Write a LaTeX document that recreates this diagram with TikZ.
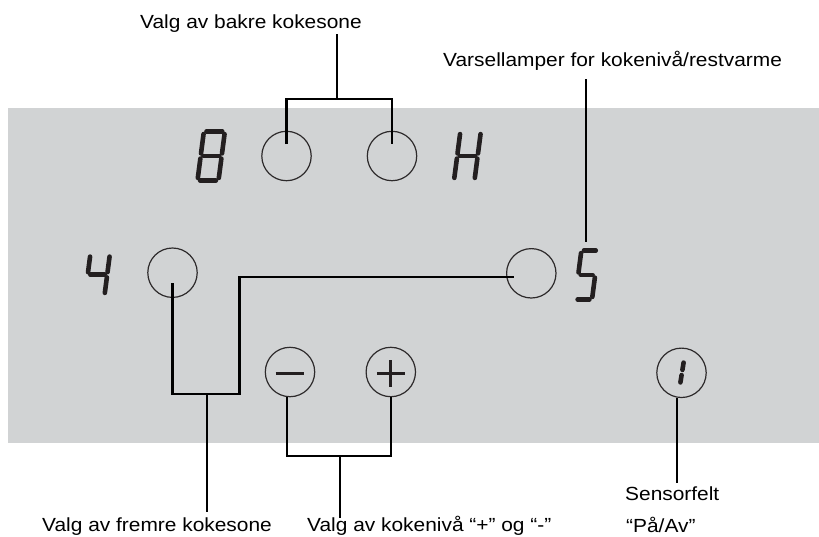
\documentclass[tikz,border=0pt]{standalone}
\usepackage{fontspec}
\setmainfont{Liberation Sans}[FakeStretch=1.1]
\definecolor{panelgray}{RGB}{209,211,212}
\definecolor{keyline}{RGB}{45,42,43}
\definecolor{segcol}{RGB}{35,31,32}
% point in a digit: local X (right), Y (up), slanted
\newcommand{\dpt}[2]{({\dx+(#1)+\ds*(#2)},{\dy-(#2)})}
\newcommand{\dsega}{\draw[seg] \dpt{\dg}{\dH} -- \dpt{\dW-\dg}{\dH};}
\newcommand{\dsegb}{\draw[seg] \dpt{\dW}{\dH-\dg} -- \dpt{\dW}{\dH/2+\dg};}
\newcommand{\dsegc}{\draw[seg] \dpt{\dW}{\dH/2-\dg} -- \dpt{\dW}{\dg};}
\newcommand{\dsegd}{\draw[seg] \dpt{\dg}{0} -- \dpt{\dW-\dg}{0};}
\newcommand{\dsege}{\draw[seg] \dpt{0}{\dg} -- \dpt{0}{\dH/2-\dg};}
\newcommand{\dsegf}{\draw[seg] \dpt{0}{\dH/2+\dg} -- \dpt{0}{\dH-\dg};}
\newcommand{\dsegg}{\draw[seg] \dpt{\dg}{\dH/2} -- \dpt{\dW-\dg}{\dH/2};}
% #1 x of bottom-left, #2 y of bottom (image coords), #3 width, #4 height, #5 slant, #6 segments
\newcommand{\segdigit}[6]{%
  \begingroup
    \def\dx{#1}\def\dy{#2}\def\dW{#3}\def\dH{#4}\def\ds{#5}\def\dg{2.6}%
    \foreach \s in {#6}{\csname dseg\s\endcsname}%
  \endgroup}
\tikzset{
  key/.style={circle, draw=keyline, line width=1.2pt, minimum size=49.4pt, inner sep=0pt},
  conn/.style={draw=black, line width=2.4pt, line join=miter},
  seg/.style={draw=segcol, line width=4.6pt, line cap=round},
  sign/.style={draw=segcol, line width=2.8pt},
  lbl/.style={inner sep=0pt, anchor=base west, font=\fontsize{19}{32}\selectfont}
}
\begin{document}
\begin{tikzpicture}[x=1pt, y=-1pt]
  \useasboundingbox (0,0) rectangle (819,536);
  % panel
  \fill[panelgray] (8,108) rectangle (819,443);
  % keys
  \node[key] (cbl) at (286.5,156) {};
  \node[key] (cbr) at (392,156) {};
  \node[key] (cfl) at (172.5,272.7) {};
  \node[key] (cfr) at (531.3,273.3) {};
  \node[key] (cmin) at (290,372) {};
  \node[key] (cplus) at (390.8,372) {};
  \node[key] (con) at (681.5,372.8) {};
  % signs
  \draw[sign] ([xshift=-14.5pt,yshift=-1.3pt]cmin.center) -- ([xshift=13.5pt,yshift=-1.3pt]cmin.center);
  \draw[sign] ([xshift=-14pt,yshift=-1.3pt]cplus.center) -- ([xshift=14pt,yshift=-1.3pt]cplus.center);
  \draw[sign] ([yshift=12pt]cplus.center) -- ([yshift=-14.7pt]cplus.center);
  % seven-segment digits
  \segdigit{197.5}{180.5}{21}{49}{0.13}{a,b,c,d,e,f,g}
  \segdigit{454}{180.5}{20.5}{49}{0.13}{b,c,e,f,g}
  \segdigit{85}{295.5}{19.5}{41.5}{0.13}{b,c,f,g}
  \segdigit{575}{299.5}{17}{49}{0.13}{a,c,d,f,g}
  \segdigit{680}{385}{0}{25}{0.16}{b,c}
  % labels
  \node[lbl] (lbak) at (140,28.5) {Valg av bakre kokesone};
  \node[lbl] (lvar) at (443,66.5) {Varsellamper for kokenivå/restvarme};
  \node[lbl] (lfre) at (42,531) {Valg av fremre kokesone};
  \node[lbl] (lniv) at (307,531) {Valg av kokenivå “+” og “-”};
  \node[lbl] (lsen) at (625,500) {Sensorfelt};
  \node[lbl] (lpa) at (626,532) {“På/Av”};
  % connector points
  \coordinate (bakTop) at (337,34);
  \coordinate (bakBar) at (337,99);
  \coordinate (varTop) at (586,79);
  \coordinate (varEnd) at (586,242);
  \coordinate (freBar) at (207,394);
  \coordinate (freTurn) at (239.3,394);
  \coordinate (freEnd) at (207,512);
  \coordinate (nivBar) at (340,456);
  \coordinate (nivEnd) at (340,518);
  \coordinate (senEnd) at (677,483);
  % connectors
  \draw[conn] ([yshift=12pt]cbl.center) |- (bakBar) -| ([yshift=12pt]cbr.center);
  \draw[conn] (bakBar) -- (bakTop);
  \draw[conn] (varTop) -- (varEnd);
  \draw[conn] ([yshift=-10.5pt]cfl.center) |- (freTurn) |- ([xshift=-17pt,yshift=-3.5pt]cfr.center);
  \draw[conn] (freBar) -- (freEnd);
  \draw[conn] ([xshift=-3pt]cmin.south) |- (nivBar) -| (cplus.south);
  \draw[conn] (nivBar) -- (nivEnd);
  \draw[conn] ([xshift=-4.5pt]con.south) -- (senEnd);
\end{tikzpicture}
\end{document}
